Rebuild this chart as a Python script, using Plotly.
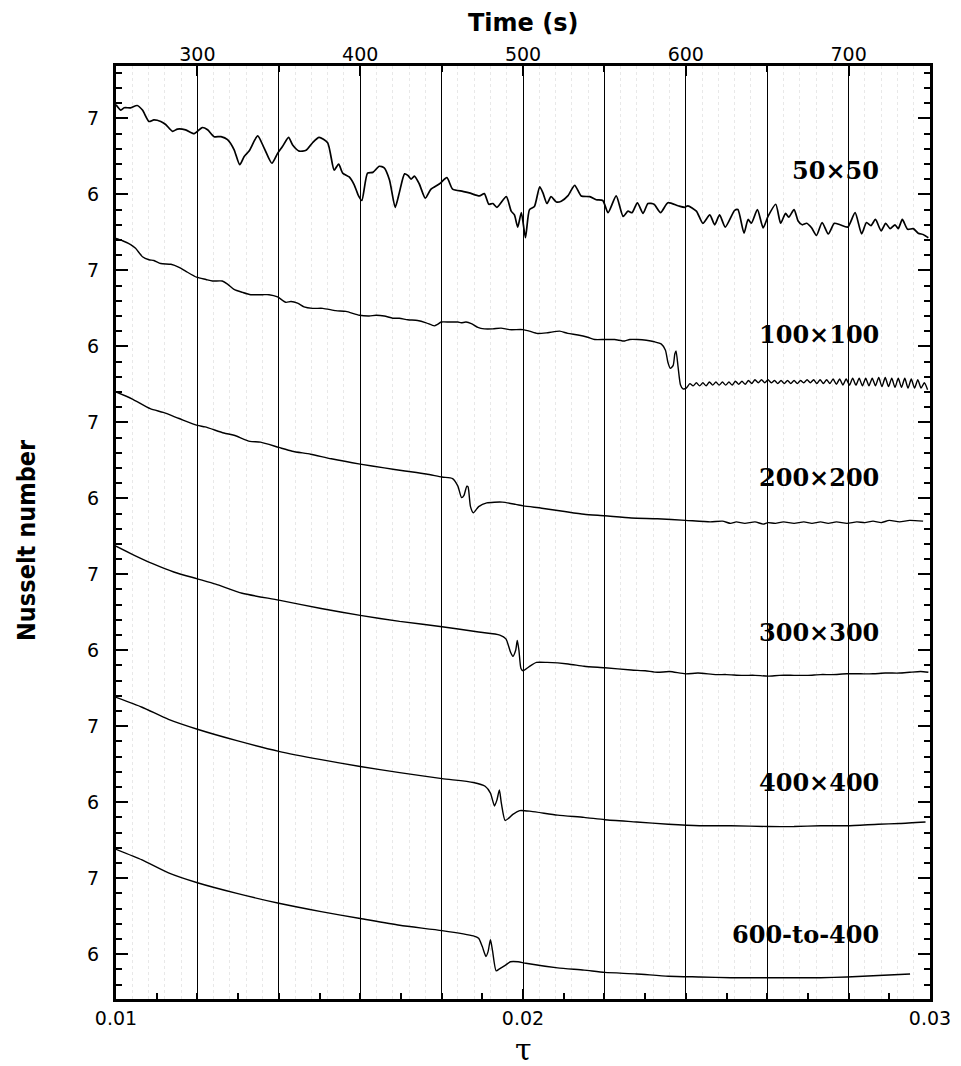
import plotly.graph_objs as go

tau_50 = [
    0.01000, 0.01012, 0.01020, 0.01036, 0.01052, 0.01065, 0.01081, 0.01093, 0.01110, 0.01122,
    0.01139, 0.01151, 0.01171, 0.01192, 0.01212, 0.01225, 0.01241, 0.01258, 0.01274, 0.01290,
    0.01304, 0.01315, 0.01327, 0.01348, 0.01364, 0.01383, 0.01397, 0.01409, 0.01424, 0.01434,
    0.01450, 0.01467, 0.01483, 0.01499, 0.01520, 0.01536, 0.01547, 0.01557, 0.01573, 0.01585,
    0.01596, 0.01604, 0.01618, 0.01631, 0.01647, 0.01659, 0.01672, 0.01686, 0.01696, 0.01709,
    0.01717, 0.01725, 0.01733, 0.01745, 0.01760, 0.01774, 0.01795, 0.01813, 0.01827, 0.01852,
    0.01868, 0.01893, 0.01905, 0.01916, 0.01926, 0.01936, 0.01959, 0.01971, 0.01979, 0.01987,
    0.01996, 0.02006, 0.02016, 0.02028, 0.02041, 0.02049, 0.02059, 0.02069, 0.02082, 0.02094,
    0.02110, 0.02127, 0.02143, 0.02164, 0.02180, 0.02196, 0.02209, 0.02229, 0.02246, 0.02258,
    0.02268, 0.02281, 0.02295, 0.02307, 0.02322, 0.02338, 0.02356, 0.02381, 0.02397, 0.02405,
    0.02426, 0.02442, 0.02459, 0.02471, 0.02483, 0.02497, 0.02520, 0.02528, 0.02543, 0.02553,
    0.02561, 0.02576, 0.02590, 0.02602, 0.02621, 0.02633, 0.02645, 0.02653, 0.02666, 0.02676,
    0.02686, 0.02697, 0.02709, 0.02721, 0.02735, 0.02750, 0.02765, 0.02779, 0.02798, 0.02816,
    0.02832, 0.02844, 0.02855, 0.02866, 0.02880, 0.02891, 0.02902, 0.02914, 0.02922, 0.02932,
    0.02945, 0.02959, 0.02971, 0.02984, 0.02996,
]
nu_50 = [
    7.18, 7.11, 7.14, 7.14, 7.17, 7.11, 6.96, 6.98, 6.96, 6.92,
    6.83, 6.86, 6.85, 6.80, 6.88, 6.85, 6.76, 6.76, 6.72, 6.59,
    6.39, 6.50, 6.57, 6.77, 6.61, 6.41, 6.54, 6.63, 6.75, 6.65,
    6.57, 6.58, 6.68, 6.75, 6.68, 6.32, 6.40, 6.28, 6.23, 6.13,
    5.98, 5.92, 6.28, 6.29, 6.37, 6.35, 6.19, 5.83, 6.02, 6.27,
    6.25, 6.20, 6.24, 6.14, 5.95, 6.07, 6.14, 6.22, 6.07, 6.04,
    6.02, 5.98, 6.01, 5.87, 5.88, 5.83, 5.97, 5.78, 5.73, 5.57,
    5.76, 5.43, 5.80, 5.84, 6.10, 6.02, 5.88, 5.97, 5.90, 5.91,
    5.98, 6.12, 5.98, 5.97, 5.93, 5.92, 5.76, 5.98, 5.71, 5.78,
    5.76, 5.89, 5.75, 5.88, 5.87, 5.76, 5.89, 5.85, 5.83, 5.85,
    5.78, 5.62, 5.73, 5.60, 5.73, 5.57, 5.79, 5.80, 5.49, 5.67,
    5.62, 5.80, 5.56, 5.71, 5.87, 5.62, 5.75, 5.70, 5.80, 5.65,
    5.60, 5.62, 5.56, 5.46, 5.63, 5.48, 5.62, 5.60, 5.57, 5.76,
    5.48, 5.63, 5.59, 5.67, 5.52, 5.62, 5.55, 5.60, 5.55, 5.67,
    5.54, 5.55, 5.49, 5.47, 5.43,
]

tau_100 = [
    0.01000, 0.01016, 0.01036, 0.01048, 0.01065, 0.01081, 0.01093, 0.01110, 0.01135, 0.01155,
    0.01171, 0.01198, 0.01221, 0.01237, 0.01261, 0.01274, 0.01290, 0.01311, 0.01331, 0.01360,
    0.01376, 0.01397, 0.01417, 0.01430, 0.01446, 0.01462, 0.01483, 0.01508, 0.01540, 0.01565,
    0.01598, 0.01622, 0.01639, 0.01659, 0.01680, 0.01696, 0.01717, 0.01741, 0.01762, 0.01782,
    0.01790, 0.01799, 0.01819, 0.01840, 0.01848, 0.01860, 0.01873, 0.01889, 0.01905, 0.01926,
    0.01946, 0.01967, 0.02000, 0.02016, 0.02036, 0.02061, 0.02090, 0.02110, 0.02135, 0.02159,
    0.02176, 0.02200, 0.02225, 0.02250, 0.02262, 0.02282, 0.02303, 0.02323, 0.02340, 0.02350,
    0.02356, 0.02362, 0.02369, 0.02373, 0.02376, 0.02381, 0.02387, 0.02393, 0.02401, 0.02410,
    0.02418, 0.02426, 0.02434, 0.02442, 0.02450, 0.02458, 0.02466, 0.02474, 0.02482, 0.02490,
    0.02498, 0.02506, 0.02514, 0.02522, 0.02530, 0.02538, 0.02546, 0.02554, 0.02562, 0.02570,
    0.02578, 0.02586, 0.02594, 0.02602, 0.02610, 0.02618, 0.02626, 0.02634, 0.02642, 0.02650,
    0.02658, 0.02666, 0.02674, 0.02682, 0.02690, 0.02698, 0.02706, 0.02714, 0.02722, 0.02730,
    0.02738, 0.02746, 0.02754, 0.02762, 0.02770, 0.02778, 0.02786, 0.02794, 0.02802, 0.02810,
    0.02818, 0.02826, 0.02834, 0.02842, 0.02850, 0.02858, 0.02866, 0.02874, 0.02882, 0.02890,
    0.02898, 0.02906, 0.02914, 0.02922, 0.02930, 0.02938, 0.02946, 0.02954, 0.02962, 0.02970,
    0.02978, 0.02986, 0.02994,
]
nu_100 = [
    7.42, 7.39, 7.34, 7.29, 7.18, 7.14, 7.13, 7.09, 7.08, 7.04,
    6.99, 6.91, 6.88, 6.86, 6.86, 6.82, 6.75, 6.71, 6.68, 6.68,
    6.68, 6.65, 6.58, 6.59, 6.57, 6.52, 6.50, 6.50, 6.47, 6.46,
    6.41, 6.40, 6.41, 6.40, 6.37, 6.37, 6.35, 6.34, 6.31, 6.27,
    6.29, 6.32, 6.32, 6.32, 6.31, 6.32, 6.30, 6.25, 6.23, 6.23,
    6.24, 6.22, 6.22, 6.20, 6.17, 6.18, 6.20, 6.17, 6.15, 6.12,
    6.09, 6.09, 6.09, 6.07, 6.09, 6.09, 6.08, 6.06, 6.03, 5.95,
    5.79, 5.71, 5.75, 5.90, 5.94, 5.73, 5.49, 5.44, 5.45, 5.51,
    5.48, 5.52, 5.48, 5.52, 5.48, 5.53, 5.49, 5.53, 5.49, 5.53,
    5.49, 5.53, 5.49, 5.54, 5.50, 5.54, 5.50, 5.55, 5.51, 5.56,
    5.52, 5.56, 5.52, 5.56, 5.52, 5.55, 5.51, 5.55, 5.51, 5.55,
    5.51, 5.55, 5.51, 5.55, 5.52, 5.56, 5.52, 5.56, 5.51, 5.56,
    5.51, 5.56, 5.51, 5.57, 5.50, 5.57, 5.49, 5.57, 5.49, 5.58,
    5.49, 5.58, 5.48, 5.58, 5.48, 5.58, 5.48, 5.59, 5.47, 5.59,
    5.47, 5.58, 5.46, 5.58, 5.46, 5.58, 5.45, 5.57, 5.45, 5.56,
    5.45, 5.52, 5.43,
]

tau_200 = [
    0.01000, 0.01039, 0.01084, 0.01116, 0.01155, 0.01200, 0.01219, 0.01265, 0.01290, 0.01329,
    0.01355, 0.01400, 0.01433, 0.01478, 0.01529, 0.01600, 0.01659, 0.01710, 0.01762, 0.01801,
    0.01827, 0.01840, 0.01849, 0.01855, 0.01862, 0.01865, 0.01871, 0.01878, 0.01891, 0.01911,
    0.01949, 0.01982, 0.02001, 0.02046, 0.02098, 0.02150, 0.02201, 0.02266, 0.02330, 0.02399,
    0.02460, 0.02490, 0.02510, 0.02524, 0.02545, 0.02570, 0.02590, 0.02602, 0.02620, 0.02640,
    0.02666, 0.02690, 0.02710, 0.02731, 0.02750, 0.02770, 0.02796, 0.02820, 0.02840, 0.02860,
    0.02880, 0.02900, 0.02925, 0.02950, 0.02983,
]
nu_200 = [
    7.40, 7.31, 7.18, 7.13, 7.05, 6.96, 6.94, 6.86, 6.83, 6.75,
    6.74, 6.67, 6.62, 6.58, 6.52, 6.45, 6.40, 6.36, 6.32, 6.28,
    6.26, 6.16, 6.01, 6.04, 6.16, 6.15, 5.89, 5.81, 5.89, 5.94,
    5.95, 5.92, 5.90, 5.87, 5.83, 5.79, 5.77, 5.74, 5.73, 5.71,
    5.69, 5.70, 5.67, 5.69, 5.67, 5.69, 5.66, 5.68, 5.67, 5.69,
    5.67, 5.69, 5.67, 5.69, 5.67, 5.69, 5.67, 5.69, 5.68, 5.70,
    5.68, 5.71, 5.69, 5.71, 5.70,
]

tau_300 = [
    0.01000, 0.01045, 0.01090, 0.01142, 0.01200, 0.01245, 0.01310, 0.01400, 0.01504, 0.01600,
    0.01697, 0.01801, 0.01891, 0.01943, 0.01958, 0.01969, 0.01975, 0.01982, 0.01986, 0.01990,
    0.01995, 0.02000, 0.02014, 0.02033, 0.02059, 0.02111, 0.02150, 0.02201, 0.02266, 0.02300,
    0.02330, 0.02360, 0.02399, 0.02430, 0.02473, 0.02500, 0.02537, 0.02570, 0.02602, 0.02630,
    0.02666, 0.02700, 0.02731, 0.02760, 0.02796, 0.02830, 0.02860, 0.02890, 0.02925, 0.02950,
    0.02977, 0.02996,
]
nu_300 = [
    7.37, 7.25, 7.14, 7.03, 6.94, 6.87, 6.75, 6.66, 6.55, 6.46,
    6.38, 6.31, 6.24, 6.20, 6.15, 5.98, 5.92, 6.00, 6.13, 6.00,
    5.76, 5.73, 5.78, 5.84, 5.84, 5.82, 5.79, 5.77, 5.74, 5.73,
    5.71, 5.72, 5.69, 5.70, 5.68, 5.68, 5.67, 5.67, 5.66, 5.67,
    5.67, 5.67, 5.68, 5.68, 5.69, 5.69, 5.69, 5.70, 5.70, 5.71,
    5.72, 5.71,
]

tau_400 = [
    0.01000, 0.01064, 0.01129, 0.01200, 0.01297, 0.01400, 0.01504, 0.01600, 0.01697, 0.01801,
    0.01878, 0.01907, 0.01920, 0.01930, 0.01936, 0.01942, 0.01947, 0.01956, 0.01965, 0.01975,
    0.01992, 0.02020, 0.02085, 0.02150, 0.02201, 0.02279, 0.02357, 0.02434, 0.02511, 0.02602,
    0.02666, 0.02731, 0.02796, 0.02873, 0.02925, 0.02989,
]
nu_400 = [
    7.38, 7.25, 7.09, 6.96, 6.81, 6.67, 6.56, 6.47, 6.39, 6.31,
    6.26, 6.21, 6.12, 5.95, 6.03, 6.16, 5.98, 5.76, 5.79, 5.84,
    5.89, 5.88, 5.83, 5.80, 5.77, 5.74, 5.71, 5.69, 5.69, 5.68,
    5.68, 5.69, 5.69, 5.71, 5.72, 5.74,
]

tau_600 = [
    0.01000, 0.01064, 0.01129, 0.01200, 0.01297, 0.01400, 0.01504, 0.01600, 0.01697, 0.01801,
    0.01878, 0.01891, 0.01900, 0.01909, 0.01914, 0.01920, 0.01925, 0.01934, 0.01943, 0.01958,
    0.01969, 0.01988, 0.02007, 0.02085, 0.02150, 0.02201, 0.02279, 0.02357, 0.02434, 0.02511,
    0.02602, 0.02666, 0.02731, 0.02796, 0.02873, 0.02951,
]
nu_600 = [
    7.38, 7.24, 7.07, 6.94, 6.80, 6.67, 6.56, 6.47, 6.38, 6.31,
    6.24, 6.21, 6.10, 5.97, 6.03, 6.19, 6.05, 5.78, 5.81, 5.86,
    5.90, 5.90, 5.88, 5.82, 5.79, 5.76, 5.74, 5.71, 5.70, 5.69,
    5.69, 5.69, 5.69, 5.70, 5.72, 5.74,
]

grid_labels = ['50×50', '100×100', '200×200', '300×300', '400×400', '600-to-400']
nu_tick_values = [7, 6]
nu_tick_text = ['7', '6']
tau_ticks = [0.01, 0.02, 0.03]
tau_tick_text = ['0.01', '0.02', '0.03']
time_ticks = [300, 400, 500, 600, 700]

PANEL_STEP = 2.0  # every run is drawn two Nusselt units below the previous one
TICK_FONT = dict(family='DejaVu Sans', size=19, color='black')


def make_plot():
    runs = [
        (tau_50, nu_50),
        (tau_100, nu_100),
        (tau_200, nu_200),
        (tau_300, nu_300),
        (tau_400, nu_400),
        (tau_600, nu_600),
    ]
    # height (in the run's own Nusselt units) of each grid label
    label_levels = [6.31, 6.16, 6.27, 6.23, 6.26, 6.26]

    traces = []
    annotations = []
    y_tickvals = []
    y_ticktext = []
    for k, ((tau, nu), label) in enumerate(zip(runs, grid_labels)):
        shift = PANEL_STEP * k
        traces.append(go.Scatter(
            x=tau,
            y=[v - shift for v in nu],
            mode='lines',
            line=dict(color='black', width=1.7 if k == 0 else 1.4, shape='spline', smoothing=0.6),
            showlegend=False,
            hoverinfo='skip',
        ))
        annotations.append(dict(
            x=0.0288, y=label_levels[k] - shift, xref='x', yref='y',
            text=label, showarrow=False, xanchor='right', yanchor='middle',
            font=dict(family='DejaVu Serif', size=24, color='black', weight='bold'),
        ))
        for v, t in zip(nu_tick_values, nu_tick_text):
            y_tickvals.append(v - shift)
            y_ticktext.append(t)

    # empty traces so that the time axis and the faint grid axis get drawn
    traces.append(go.Scatter(x=[], y=[], xaxis='x2', yaxis='y', showlegend=False))
    traces.append(go.Scatter(x=[], y=[], xaxis='x3', yaxis='y', showlegend=False))

    annotations += [
        dict(x=0.5, y=1, xref='paper', yref='paper', yshift=43, text='Time (s)',
             showarrow=False, xanchor='center', yanchor='middle',
             font=dict(family='DejaVu Sans', size=24, color='black', weight='bold')),
        dict(x=0.5, y=0, xref='paper', yref='paper', yshift=-50, text='τ',
             showarrow=False, xanchor='center', yanchor='middle',
             font=dict(family='DejaVu Serif', size=30, color='black')),
        dict(x=0, y=0.492, xref='paper', yref='paper', xshift=-89, text='Nusselt number',
             textangle=-90, showarrow=False, xanchor='center', yanchor='middle',
             font=dict(family='DejaVu Sans Condensed, DejaVu Sans', size=25, color='black',
                       weight='bold')),
    ]

    # faint dotted lines between the solid ones
    faint_lines = [0.01 + i * 0.0004 for i in range(1, 50) if i % 5]

    layout = go.Layout(
        width=961,
        height=1066,
        showlegend=False,
        paper_bgcolor='white',
        plot_bgcolor='white',
        margin=go.layout.Margin(t=58, b=75, l=108, r=39),
        annotations=annotations,
        xaxis=go.layout.XAxis(
            range=[0.01, 0.03],
            tickmode='array',
            tickvals=tau_ticks,
            ticktext=tau_tick_text,
            ticks='inside',
            ticklen=10,
            tickwidth=2,
            tickcolor='black',
            tickfont=TICK_FONT,
            ticklabelstandoff=0,
            minor=dict(tickmode='linear', tick0=0.01, dtick=0.001, ticks='inside',
                       ticklen=6, tickwidth=1.5, tickcolor='black', showgrid=False),
            showline=True,
            linewidth=3,
            linecolor='black',
            mirror=True,
            showgrid=False,
            zeroline=False,
        ),
        xaxis2=go.layout.XAxis(
            overlaying='x',
            side='top',
            anchor='y',
            range=[250, 750],
            tickmode='array',
            tickvals=time_ticks,
            ticks='inside',
            ticklen=10,
            tickwidth=2,
            tickcolor='black',
            tickfont=TICK_FONT,
            minor=dict(tickmode='linear', tick0=250, dtick=50, ticks='inside', ticklen=6,
                       tickcolor='black', showgrid=True, gridcolor='black', gridwidth=1),
            showgrid=True,
            gridcolor='black',
            gridwidth=1,
            showline=False,
            zeroline=False,
        ),
        xaxis3=go.layout.XAxis(
            overlaying='x',
            anchor='y',
            range=[0.01, 0.03],
            tickmode='array',
            tickvals=faint_lines,
            showticklabels=False,
            ticks='',
            showgrid=True,
            gridcolor='#e8e8e8',
            griddash='dot',
            gridwidth=1,
            showline=False,
            zeroline=False,
        ),
        yaxis=go.layout.YAxis(
            range=[-4.59, 7.69],
            tickmode='array',
            tickvals=y_tickvals,
            ticktext=y_ticktext,
            ticks='inside',
            ticklen=12,
            tickwidth=2,
            tickcolor='black',
            tickfont=TICK_FONT,
            ticklabelstandoff=10,
            minor=dict(tickmode='linear', tick0=0, dtick=0.2, ticks='inside', ticklen=6,
                       tickwidth=1.5, tickcolor='black', showgrid=False),
            showline=True,
            linewidth=3,
            linecolor='black',
            mirror='ticks',
            showgrid=False,
            zeroline=False,
        ),
    )

    fig = go.Figure(data=traces, layout=layout)
    fig.write_html('out.html')


if __name__ == '__main__':
    make_plot()
